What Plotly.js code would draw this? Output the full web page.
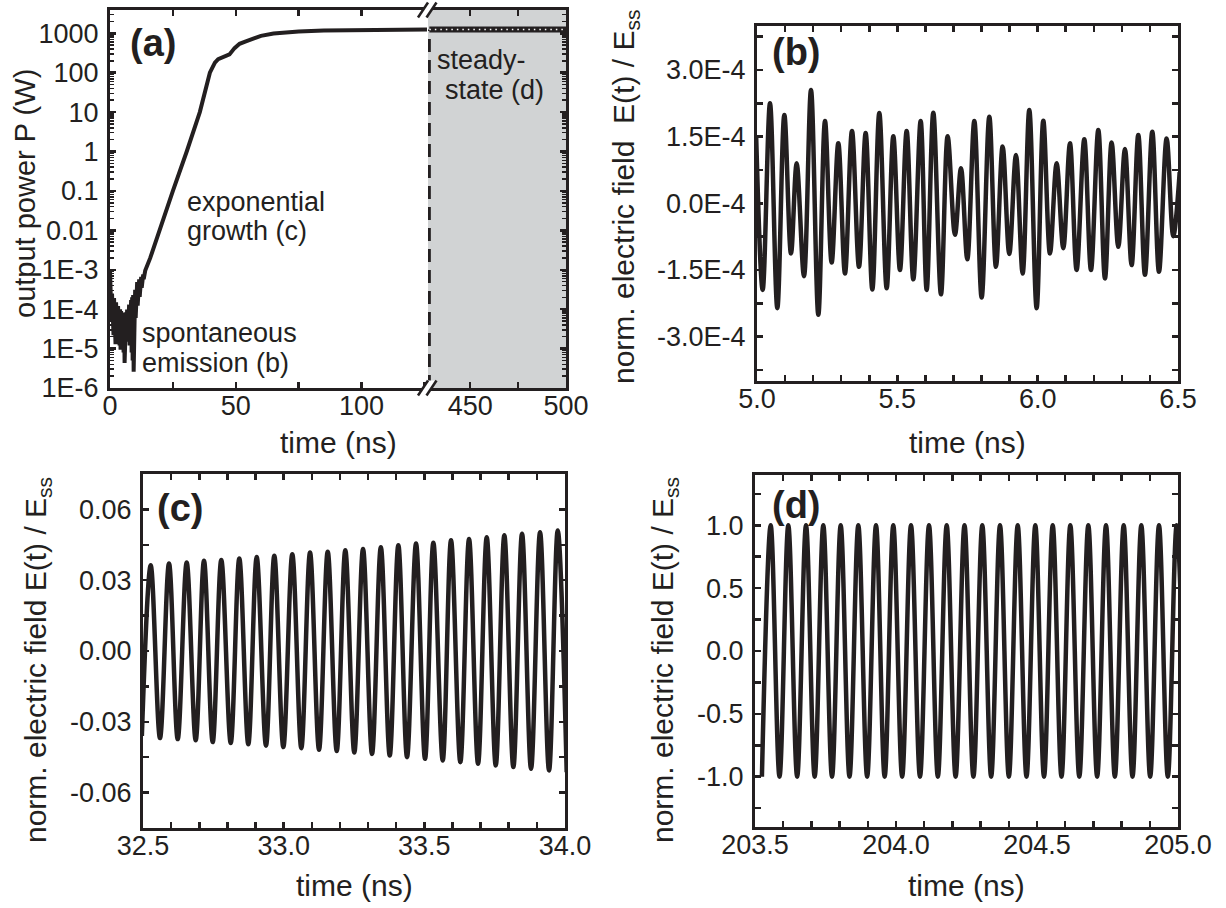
<!DOCTYPE html>
<html><head><meta charset="utf-8">
<script src="https://cdn.plot.ly/plotly-3.0.1.min.js"></script>
<style>html,body{margin:0;padding:0;background:#fff}#chart{width:1226px;height:908px}</style>
</head><body><div id="chart"></div>
<script>
// ---------- Panel (a): output power vs time ----------
const aT = [0.0, 0.2, 0.4, 0.6, 0.8, 1.0, 1.2, 1.4, 1.6, 1.8, 2.0, 2.2, 2.4, 2.6, 2.8, 3.0, 3.2, 3.4, 3.6, 3.8, 4.0, 4.2, 4.4, 4.6, 4.8, 5.0, 5.2, 5.4, 5.6, 5.8, 6.0, 6.2, 6.4, 6.6, 6.8, 7.0, 7.2, 7.4, 7.6, 7.8, 8.0, 8.2, 8.4, 8.6, 8.8, 9.0, 9.2, 9.4, 9.6, 9.8, 10.0, 10.2, 10.4, 10.6, 10.8, 11.0, 11.2, 11.4, 11.6, 11.8, 12.0, 12.2, 12.4, 12.6, 12.8, 13.0, 13.2, 13.4, 13.6, 14.0, 16.0, 18.0, 19.8, 25.0, 30.5, 35.7, 39.7, 41.7, 43.0, 45.0, 47.5, 49.5, 51.5, 54.0, 56.5, 60.0, 65.0, 70.0, 75.0, 85.0, 100.0, 115.0, 126.0];
const aP = [1.0e-3, 1.0e-4, 4.0e-4, 5.0e-5, 2.5e-4, 3.0e-5, 2.1e-4, 2.2e-5, 1.9e-4, 1.5e-5, 1.7e-4, 1.3e-5, 1.5e-4, 2.5e-5, 1.35e-4, 1.8e-5, 1.2e-4, 2.8e-5, 1.08e-4, 1.2e-5, 1.0e-4, 9.4e-6, 9.0e-5, 2.0e-5, 8.2e-5, 1.5e-5, 7.6e-5, 8.0e-6, 7.2e-5, 4.3e-6, 7.2e-5, 1.2e-5, 8.3e-5, 2.5e-5, 9.8e-5, 1.5e-5, 1.12e-4, 2.8e-5, 1.3e-4, 1.2e-5, 1.49e-4, 2.0e-5, 1.7e-4, 8.0e-6, 2.0e-4, 5.0e-6, 2.3e-4, 2.6e-6, 2.7e-4, 1.2e-5, 3.1e-4, 6.0e-5, 3.6e-4, 9.5e-5, 4.9e-4, 1.23e-4, 5.3e-4, 1.59e-4, 5.7e-4, 2.06e-4, 6.2e-4, 2.65e-4, 6.6e-4, 3.5e-4, 7.2e-4, 4.4e-4, 7.6e-4, 5.8e-4, 8.3e-4, 9.5e-4, 2.0e-3, 4.6e-3, 0.01, 0.1, 1, 10, 100, 180, 220, 245, 290, 420, 540, 620, 720, 860, 980, 1060, 1110, 1170, 1220, 1240, 1250];
const steadyT = [428.7, 500];
const steadyP = [1250, 1250];
const aYTickVals = [1e-6, 1e-5, 1e-4, 1e-3, 0.01, 0.1, 1, 10, 100, 1000];
const aYTickText = ['1E-6', '1E-5', '1E-4', '1E-3', '0.01', '0.1', '1', '10', '100', '1000'];

// ---------- Panel (b): spontaneous emission field (extrema, units of 1E-4) ----------
const bT = [4.997, 5.0202, 5.0463, 5.0724, 5.0974, 5.1211, 5.1413, 5.1674, 5.1924, 5.2185, 5.2423, 5.2660, 5.2897, 5.3135, 5.3384, 5.3634, 5.3871, 5.4109, 5.4358, 5.4620, 5.4857, 5.5094, 5.5332, 5.5569, 5.5831, 5.6045, 5.6282, 5.6555, 5.6793, 5.7054, 5.7268, 5.7493, 5.7743, 5.8004, 5.8277, 5.8514, 5.8752, 5.8989, 5.9227, 5.9465, 5.9702, 5.9963, 6.0201, 6.0438, 6.0676, 6.0913, 6.1151, 6.1388, 6.1661, 6.1899, 6.2160, 6.2398, 6.2635, 6.2873, 6.3110, 6.3348, 6.3585, 6.3823, 6.4084, 6.4322, 6.4595, 6.4832, 6.5060];
const bV_e4 = [1.50, -1.95, 2.25, -2.36, 1.99, -1.13, 0.90, -1.64, 2.55, -2.51, 1.85, -1.33, 1.35, -1.58, 1.63, -1.43, 1.58, -1.94, 2.03, -1.91, 1.51, -1.50, 1.63, -1.71, 1.85, -1.95, 2.04, -2.05, 1.51, -0.71, 0.79, -1.26, 1.85, -2.12, 1.95, -1.43, 1.28, -1.14, 1.09, -1.58, 2.10, -2.36, 1.86, -1.13, 0.90, -1.01, 1.35, -1.50, 1.44, -1.50, 1.65, -1.69, 1.37, -0.98, 1.22, -1.39, 1.54, -1.61, 1.61, -1.54, 1.46, -0.74, 0.70];
const bYTickVals = [-3e-4, -1.5e-4, 0, 1.5e-4, 3e-4];
const bYTickText = ['-3.0E-4', '-1.5E-4', '0.0E-4', '1.5E-4', '3.0E-4'];

// ---------- Panel (c): exponential growth (extrema) ----------
const cT = [32.4959, 32.5274, 32.5604, 32.5924, 32.6234, 32.6553, 32.6873, 32.7168, 32.7478, 32.7783, 32.8118, 32.8423, 32.8743, 32.9042, 32.9372, 32.9667, 32.9988, 33.0307, 33.0627, 33.0937, 33.1257, 33.1566, 33.1886, 33.2191, 33.2511, 33.2821, 33.3141, 33.3454, 33.3770, 33.4076, 33.4385, 33.4705, 33.5025, 33.5320, 33.5654, 33.5949, 33.6280, 33.6589, 33.6909, 33.7218, 33.7538, 33.7844, 33.8164, 33.8473, 33.8793, 33.9113, 33.9433, 33.9742, 34.0060];
const cV = [-0.0360, 0.0363, -0.0369, 0.0371, -0.0373, 0.0375, -0.0378, 0.0382, -0.0386, 0.0386, -0.0390, 0.0392, -0.0395, 0.0398, -0.0401, 0.0404, -0.0407, 0.0410, -0.0412, 0.0417, -0.0418, 0.0421, -0.0424, 0.0427, -0.0430, 0.0432, -0.0436, 0.0440, -0.0443, 0.0448, -0.0450, 0.0455, -0.0457, 0.0459, -0.0464, 0.0469, -0.0471, 0.0475, -0.0478, 0.0482, -0.0485, 0.0490, -0.0492, 0.0497, -0.0499, 0.0503, -0.0506, 0.0511, -0.0514];
const cYTickVals = [-0.06, -0.03, 0, 0.03, 0.06];
const cYTickText = ['-0.06', '-0.03', '0.00', '0.03', '0.06'];

// ---------- Panel (d): steady state (extrema) ----------
const dT = [203.5245, 203.5557, 203.5869, 203.6181, 203.6495, 203.6809, 203.7116, 203.7422, 203.7731, 203.8039, 203.8351, 203.8663, 203.8977, 203.9291, 203.9598, 203.9904, 204.0218, 204.0532, 204.0851, 204.1170, 204.1484, 204.1798, 204.2114, 204.2429, 204.2745, 204.3060, 204.3374, 204.3688, 204.4002, 204.4316, 204.4628, 204.4940, 204.5249, 204.5557, 204.5869, 204.6181, 204.6500, 204.6819, 204.7133, 204.7447, 204.7761, 204.8074, 204.8387, 204.8699, 204.9013, 204.9326, 204.9639, 204.9952, 205.0265];
const dV = [-1, 1, -1, 1, -1, 1, -1, 1, -1, 1, -1, 1, -1, 1, -1, 1, -1, 1, -1, 1, -1, 1, -1, 1, -1, 1, -1, 1, -1, 1, -1, 1, -1, 1, -1, 1, -1, 1, -1, 1, -1, 1, -1, 1, -1, 1, -1, 1, -1];
const dYTickVals = [-1, -0.5, 0, 0.5, 1];
const dYTickText = ['-1.0', '-0.5', '0.0', '0.5', '1.0'];

const bXTickVals = [5.0, 5.5, 6.0, 6.5], bXTickText = ['5.0', '5.5', '6.0', '6.5'];
const cXTickVals = [32.5, 33.0, 33.5, 34.0], cXTickText = ['32.5', '33.0', '33.5', '34.0'];
const dXTickVals = [203.5, 204.0, 204.5, 205.0], dXTickText = ['203.5', '204.0', '204.5', '205.0'];

// ---------- layout helpers ----------
const W = 1226, H = 908;
const fx = px => px / W, fy = px => 1 - px / H;
const INK = '#231f20';
const FONT = 'Liberation Sans, Arial, Helvetica, sans-serif';
const TICKFONT = {family: FONT, size: 27, color: INK};

function ax(extra) {
  return Object.assign({
    showline: true, linewidth: 3, linecolor: INK,
    ticks: 'inside', ticklen: 6, tickwidth: 2.5, tickcolor: INK,
    mirror: 'allticks', showgrid: false, zeroline: false,
    tickfont: TICKFONT, fixedrange: true
  }, extra);
}
const XSO = -8, YSO = 3;
function minor(dt, t0) {
  return {dtick: dt, tick0: t0, ticks: 'inside', ticklen: 6, tickwidth: 2.5, tickcolor: INK, showgrid: false};
}
const logMinor = {dtick: 'D1', ticks: 'inside', ticklen: 4, tickwidth: 1.5, tickcolor: INK, showgrid: false};

const lineStyle = {color: INK, width: 4.5, shape: 'spline', smoothing: 1};

const traces = [
  {x: aT, y: aP, xaxis: 'x', yaxis: 'y', mode: 'lines', line: {color: INK, width: 4}},
  {x: [steadyT[0], steadyT[0]], y: [aYTickVals[0], steadyP[0]], xaxis: 'x2', yaxis: 'y2', mode: 'lines', line: {color: INK, width: 3, dash: '13px,8px'}},
  {x: steadyT, y: steadyP, xaxis: 'x2', yaxis: 'y2', mode: 'lines', line: {color: INK, width: 6}},
  {x: steadyT, y: steadyP, xaxis: 'x2', yaxis: 'y2', mode: 'lines', line: {color: '#ffffff', width: 1.5, dash: '1.5px,4px'}},
  {x: bT, y: bV_e4.map(v => v * 1e-4), xaxis: 'x3', yaxis: 'y3', mode: 'lines', line: lineStyle},
  {x: cT, y: cV, xaxis: 'x4', yaxis: 'y4', mode: 'lines', line: lineStyle},
  {x: dT, y: dV, xaxis: 'x5', yaxis: 'y5', mode: 'lines', line: lineStyle}
];

function ann(text, x, y, size, opts) {
  return Object.assign({text: text, x: fx(x), y: fy(y), xref: 'paper', yref: 'paper', showarrow: false,
    font: {family: FONT, size: size, color: INK}, xanchor: 'center', yanchor: 'middle'}, opts || {});
}
const yTitle = 'norm. electric field E(t) / E<sub>ss</sub>';

const annotations = [
  ann('<b>(a)</b>', 153, 43, 38),
  ann('<b>(b)</b>', 796, 52, 38),
  ann('<b>(c)</b>', 180, 508, 38),
  ann('<b>(d)</b>', 796, 505, 38),
  ann('exponential', 185, 202, 27, {xanchor: 'left'}),
  ann('growth (c)', 185, 231, 27, {xanchor: 'left'}),
  ann('spontaneous', 140, 333, 27, {xanchor: 'left'}),
  ann('emission (b)', 140, 363, 27, {xanchor: 'left'}),
  ann('steady-', 435, 60, 27, {xanchor: 'left'}),
  ann('state (d)', 443, 90, 27, {xanchor: 'left'}),
  ann('time (ns)', 338, 442, 30),
  ann('time (ns)', 967, 442, 30),
  ann('time (ns)', 354, 885, 30),
  ann('time (ns)', 966, 885, 30),
  ann('output power P (W)', 25, 194, 29, {textangle: -90}),
  ann('norm. electric field \u00a0E(t) / E<sub>ss</sub>', 626, 197, 30, {textangle: -90}),
  ann(yTitle, 37, 660, 30, {textangle: -90}),
  ann(yTitle, 664, 660, 30, {textangle: -90})
];

// axis break marks "//" on top and bottom of panel (a)
function brk(yc) {
  const p = (x, y) => fx(x).toFixed(5) + ',' + fy(y).toFixed(5);
  return [
    {type: 'path', xref: 'paper', yref: 'paper', layer: 'above', line: {width: 0}, fillcolor: '#ffffff',
      path: 'M' + p(418, yc + 7.5) + 'L' + p(428, yc - 7.5) + 'L' + p(436.5, yc - 7.5) + 'L' + p(426.5, yc + 7.5) + 'Z'},
    {type: 'line', xref: 'paper', yref: 'paper', layer: 'above', line: {color: INK, width: 2.5},
      x0: fx(418), y0: fy(yc + 7.5), x1: fx(428), y1: fy(yc - 7.5)},
    {type: 'line', xref: 'paper', yref: 'paper', layer: 'above', line: {color: INK, width: 2.5},
      x0: fx(426.5), y0: fy(yc + 7.5), x1: fx(436.5), y1: fy(yc - 7.5)}
  ];
}

const shapes = [
  {type: 'rect', xref: 'x2 domain', yref: 'y2 domain', x0: 0, x1: 1, y0: 0, y1: 1, fillcolor: '#d1d3d4', line: {width: 0}, layer: 'below'}
].concat(brk(10), brk(388));

const aDomY = [fy(388), fy(10)];
const layout = {
  width: W, height: H, margin: {l: 0, r: 0, t: 0, b: 0},
  paper_bgcolor: '#ffffff', plot_bgcolor: 'rgba(0,0,0,0)', showlegend: false,
  font: {family: FONT, color: INK},
  xaxis: ax({domain: [fx(110), fx(427)], range: [0, 126], anchor: 'y', ticklabelstandoff: XSO, tickmode: 'array', tickvals: [0, 50, 100], ticktext: ['0', '50', '100'], minor: minor(25, 0)}),
  xaxis2: ax({domain: [fx(428), fx(566)], range: [428, 500], anchor: 'y2', ticklabelstandoff: XSO, tickmode: 'array', tickvals: [450, 500], ticktext: ['450', '500'], minor: minor(25, 0)}),
  yaxis: ax({domain: aDomY, type: 'log', range: [-6, 3.59], anchor: 'x', mirror: false, ticklabelstandoff: YSO, tickmode: 'array', tickvals: aYTickVals, ticktext: aYTickText, minor: logMinor}),
  yaxis2: ax({domain: aDomY, type: 'log', range: [-6, 3.59], anchor: 'x2', side: 'right', mirror: false, showticklabels: false, tickmode: 'linear', tick0: 0, dtick: 1, minor: logMinor}),
  xaxis3: ax({domain: [fx(757), fx(1178)], range: [5.0, 6.5], anchor: 'y3', ticklabelstandoff: XSO, tickmode: 'array', tickvals: bXTickVals, ticktext: bXTickText, minor: minor(0.1, 5.0)}),
  yaxis3: ax({domain: [fy(381), fy(25.6)], range: [-4e-4, 4e-4], anchor: 'x3', ticklabelstandoff: YSO, tickmode: 'array', tickvals: bYTickVals, ticktext: bYTickText, minor: minor(0.75e-4, 0)}),
  xaxis4: ax({domain: [fx(143), fx(565)], range: [32.5, 34.0], anchor: 'y4', ticklabelstandoff: XSO, tickmode: 'array', tickvals: cXTickVals, ticktext: cXTickText, minor: minor(0.1, 32.5)}),
  yaxis4: ax({domain: [fy(828), fy(474)], range: [-0.075, 0.075], anchor: 'x4', ticklabelstandoff: YSO, tickmode: 'array', tickvals: cYTickVals, ticktext: cYTickText, minor: minor(0.015, 0)}),
  xaxis5: ax({domain: [fx(755), fx(1178)], range: [203.5, 205.0], anchor: 'y5', ticklabelstandoff: XSO, tickmode: 'array', tickvals: dXTickVals, ticktext: dXTickText, minor: minor(0.1, 203.5)}),
  yaxis5: ax({domain: [fy(827), fy(475)], range: [-1.4, 1.4], anchor: 'x5', ticklabelstandoff: YSO, tickmode: 'array', tickvals: dYTickVals, ticktext: dYTickText, minor: minor(0.25, 0)}),
  annotations: annotations,
  shapes: shapes
};

Plotly.newPlot('chart', traces, layout, {displayModeBar: false, staticPlot: true});
</script>
</body></html>
